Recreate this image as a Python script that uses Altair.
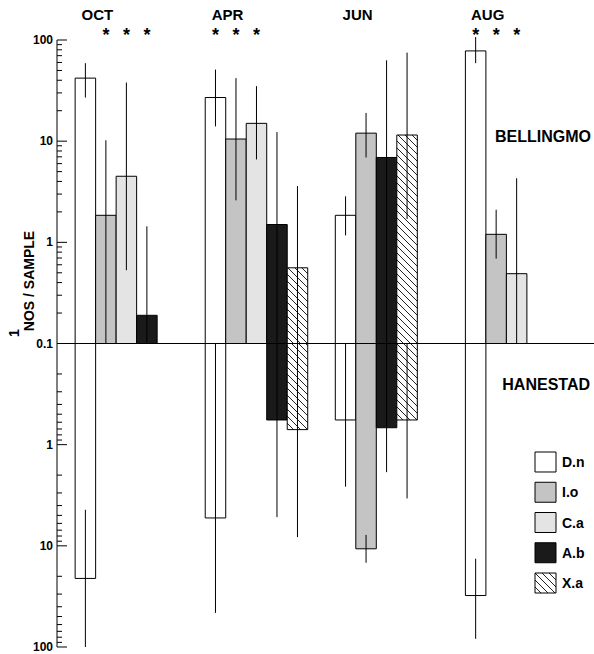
import math

import altair as alt
import pandas as pd

MONTHS = ["OCT", "APR", "JUN", "AUG"]
SPECIES = ["D.n", "I.o", "C.a", "A.b", "X.a"]

# Mean catch (nos/sample); rows = months, columns = species; None = not present
BELL_MEAN = [
    [42, 1.85, 4.5, 0.19, None],
    [27, 10.5, 15, 1.5, 0.56],
    [1.85, 12, None, 6.9, 11.5],
    [78, 1.2, 0.49, None, None],
]
HAN_MEAN = [
    [21, None, None, None, None],
    [5.3, None, None, 0.57, 0.71],
    [0.57, 10.7, None, 0.68, 0.57],
    [31, None, None, None, None],
]
# Range bars (low, high); 0.1 means the bar reaches the centre line
BELL_RANGE = [
    [(27, 59), (0.1, 10.2), (0.53, 38), (0.1, 1.44), None],
    [(14, 51), (2.6, 42), (6.6, 35), (0.1, 12.3), (0.1, 3.6)],
    [(1.17, 2.85), (6.9, 19), None, (0.1, 63), (1.7, 75)],
    [(59, 107), (0.69, 2.1), (0.1, 4.3), None, None],
]
HAN_RANGE = [
    [(4.4, 100), None, None, None, None],
    [(0.1, 46), None, None, (0.1, 5.2), (0.1, 8.2)],
    [(0.1, 2.6), (7.8, 14.7), None, (0.1, 1.87), (0.1, 3.4)],
    [(13.4, 83), None, None, None, None],
]
# Significant differences between sites
STARRED = [
    ["I.o", "C.a", "A.b"],
    ["D.n", "I.o", "C.a"],
    [],
    ["D.n", "I.o", "C.a"],
]
# Axis labels, top (Bellingmo) and bottom (Hanestad) halves of the mirrored log scale
TICK_LABELS = ["100", "10", "1", "0.1", "1", "10", "100"]

FILLS = ["#ffffff", "#c4c4c4", "#e4e4e4", "#1a1a1a", "#ffffff"]
FONT = "Liberation Sans"

W, H = 537, 607
PI, PO, ALIGN = 0.212, 0.17, 0.41


def up(v):
    return math.log10(v) + 1


def down(v):
    return -(math.log10(v) + 1)


bar_rows, err_rows, star_rows = [], [], []
for i, m in enumerate(MONTHS):
    slot = 0
    for j, sp in enumerate(SPECIES):
        b, h = BELL_MEAN[i][j], HAN_MEAN[i][j]
        if b is None and h is None:
            continue
        if b is not None:
            bar_rows.append(dict(month=m, species=sp, slot=slot, site="B", s0=0, s1=up(b)))
        if h is not None:
            bar_rows.append(dict(month=m, species=sp, slot=slot, site="H", s0=0, s1=down(h)))
        if BELL_RANGE[i][j]:
            lo, hi = BELL_RANGE[i][j]
            err_rows.append(dict(month=m, slot=slot, e0=up(lo), e1=up(hi)))
        if HAN_RANGE[i][j]:
            lo, hi = HAN_RANGE[i][j]
            err_rows.append(dict(month=m, slot=slot, e0=down(lo), e1=down(hi)))
        if sp in STARRED[i]:
            star_rows.append(dict(month=m, slot=slot))
        slot += 1

bars = pd.DataFrame(bar_rows)
errs = pd.DataFrame(err_rows)
stars = pd.DataFrame(star_rows)

major = pd.DataFrame({"s": [3, 2, 1, 0, -1, -2, -3], "label": TICK_LABELS})
minor_vals = []
for d in range(3):
    for k in range(2, 10):
        minor_vals += [d + math.log10(k), -(d + math.log10(k))]
minor = pd.DataFrame({"s": minor_vals})

xscale = alt.Scale(domain=MONTHS, paddingInner=PI, paddingOuter=PO, align=ALIGN)
oscale = alt.Scale(domain=[0, 1, 2, 3, 4], paddingInner=0, paddingOuter=0)
yscale = alt.Scale(domain=[-3, 3], nice=False, zero=False)
fscale = alt.Scale(domain=SPECIES, range=FILLS)

X = alt.X("month:N", scale=xscale, sort=MONTHS, axis=None)
XO = alt.XOffset("slot:O", scale=oscale)


def Y(field):
    return alt.Y(field, scale=yscale, axis=None)


step = W / (len(MONTHS) - PI + 2 * PO)
bar_w = step * (1 - PI) / 5
px_per_unit = H / 6


def hatch(w, h, period=7.0, line=1.3):
    """Diagonal hatching as a hard-stop linear gradient in bounding-box units."""
    k = w / (w * w + h * h)
    stops = []
    n = int(math.ceil((w + h) / period)) + 2
    for i in range(n):
        a = i * period * k
        if a > 1:
            break
        b = min(a + (period - line) * k, 1)
        c = min(a + period * k, 1)
        stops += [(a, "#ffffff"), (b, "#ffffff"), (b, "#222222"), (c, "#222222")]
    return alt.LinearGradient(
        gradient="linear",
        stops=[alt.GradientStop(offset=o, color=c) for o, c in stops],
        x1=0, y1=1, x2=1, y2=1 - h / w,
    )


base_bars = alt.Chart(bars[bars.species != "X.a"]).mark_bar(
    stroke="black", strokeWidth=1
).encode(
    x=X, xOffset=XO, y=Y("s0:Q"), y2="s1:Q",
    fill=alt.Fill("species:N", scale=fscale, legend=None),
)

hatched = []
xa = bars[bars.species == "X.a"].reset_index(drop=True)
for _, r in xa.iterrows():
    hpx = abs(r.s1 - r.s0) * px_per_unit
    hatched.append(
        alt.Chart(pd.DataFrame([r])).mark_bar(
            fill=hatch(bar_w, hpx), stroke="black", strokeWidth=1
        ).encode(x=X, xOffset=XO, y=Y("s0:Q"), y2="s1:Q")
    )

err_layer = alt.Chart(errs).mark_rule(color="black", strokeWidth=1).encode(
    x=X, xOffset=XO, y=Y("e0:Q"), y2="e1:Q"
)

baseline = alt.Chart(pd.DataFrame({"s": [0]})).mark_rule(color="black", strokeWidth=1).encode(
    y=Y("s:Q"), x=alt.value(0), x2=alt.value(W)
)
axis_line = alt.Chart(pd.DataFrame({"a": [-3], "b": [3]})).mark_rule(
    color="black", strokeWidth=1
).encode(y=Y("a:Q"), y2="b:Q", x=alt.value(0))
major_ticks = alt.Chart(major).mark_rule(color="black", strokeWidth=1).encode(
    y=Y("s:Q"), x=alt.value(0), x2=alt.value(10)
)
minor_ticks = alt.Chart(minor).mark_rule(color="black", strokeWidth=1).encode(
    y=Y("s:Q"), x=alt.value(0), x2=alt.value(5)
)
tick_text = alt.Chart(major).mark_text(
    font=FONT, fontWeight="bold", fontSize=12, align="right", baseline="middle",
    color="black"
).encode(y=Y("s:Q"), x=alt.value(-4), text="label:N")

month_labels = alt.Chart(pd.DataFrame({"month": MONTHS})).mark_text(
    font=FONT, fontWeight="bold", fontSize=15, dx=-29, baseline="alphabetic", color="black"
).encode(x=X, y=alt.value(-20), text="month:N")

star_layer = alt.Chart(stars).mark_text(
    text="*", font=FONT, fontWeight="bold", fontSize=18, baseline="alphabetic", color="black"
).encode(x=X, xOffset=XO, y=alt.value(1))

one = pd.DataFrame({"k": [0]})
site_b = alt.Chart(one).mark_text(
    text="BELLINGMO", font=FONT, fontWeight="bold", fontSize=16, align="right",
    baseline="alphabetic", color="black"
).encode(x=alt.value(534), y=alt.value(102))
site_h = alt.Chart(one).mark_text(
    text="HANESTAD", font=FONT, fontWeight="bold", fontSize=16, align="right",
    baseline="alphabetic", color="black"
).encode(x=alt.value(533), y=alt.value(350))
ytitle = alt.Chart(one).mark_text(
    text="NOS / SAMPLE", font=FONT, fontWeight="bold", fontSize=14, angle=270,
    align="center", baseline="middle", color="black"
).encode(x=alt.value(-27), y=alt.value(241))
yunit = alt.Chart(one).mark_text(
    text="1", font=FONT, fontWeight="bold", fontSize=14, angle=270,
    align="center", baseline="middle", color="black"
).encode(x=alt.value(-42), y=alt.value(293))

main = alt.layer(
    base_bars, *hatched, err_layer, baseline, axis_line, major_ticks, minor_ticks,
    tick_text, month_labels, star_layer, site_b, site_h, ytitle, yunit,
)

# Key: boxes and species names
key_df = pd.DataFrame({"species": SPECIES})
kscale = alt.Scale(domain=SPECIES, range=[412, 553], paddingInner=0.339, paddingOuter=0)
KY = alt.Y("species:N", scale=kscale, sort=SPECIES, axis=None)
key_boxes = alt.Chart(key_df[key_df.species != "X.a"]).mark_rect(
    stroke="black", strokeWidth=1
).encode(
    y=KY, x=alt.value(478), x2=alt.value(499),
    fill=alt.Fill("species:N", scale=fscale, legend=None),
)
key_hatch = alt.Chart(key_df[key_df.species == "X.a"]).mark_rect(
    fill=hatch(21, 20), stroke="black", strokeWidth=1
).encode(y=KY, x=alt.value(478), x2=alt.value(499))
key_text = alt.Chart(key_df).mark_text(
    font=FONT, fontWeight="bold", fontSize=14, align="left", baseline="middle",
    dy=1, color="black"
).encode(y=KY, x=alt.value(505), text="species:N")
key = alt.layer(key_boxes, key_hatch, key_text)

chart = alt.layer(main, key).resolve_scale(y="independent").properties(
    width=W, height=H,
    padding={"left": 57, "top": 40, "right": 0, "bottom": 7},
    autosize=alt.AutoSizeParams(type="none"),
    background="white",
).configure_view(stroke=None)

chart.save("out.html", embed_options={"renderer": "svg", "actions": False})
